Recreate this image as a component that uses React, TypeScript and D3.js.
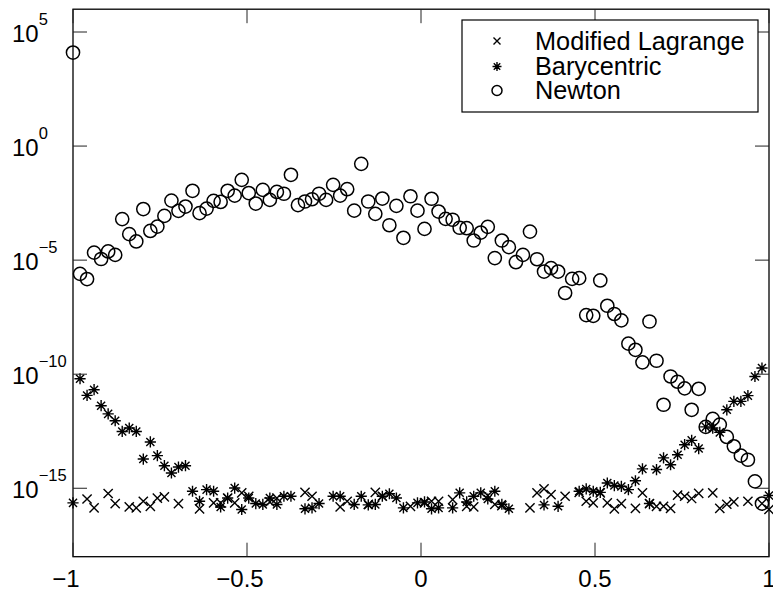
import React from "react";
import * as d3 from "d3";

// Evaluation points: linspace(-1, 1, 100)
const POINT_COUNT = 100;
const xNodes: number[] = d3.range(POINT_COUNT).map((i) => -1 + (2 * i) / (POINT_COUNT - 1));

// log10 of errors (null = not shown)
const lagrangeExp: (number | null)[] = [
  null, null, -15.47, -15.86, null, -15.23, -15.67, null, -15.82, -15.86,
  -15.57, -15.79, -15.43, -15.38, null, -15.67, null, null, -15.9, null,
  -15.64, -15.64, -15.43, -15.64, -15.2, -15.35, null, null, -15.6, -15.43,
  null, null, null, -15.18, -15.35, null, null, null, -15.82, -15.57,
  null, null, -15.71, -15.18, -15.35, null, null, null, -15.79, null,
  -15.64, -15.57, -15.57, null, -15.5, null, -15.79, -15.82, null, -15.32,
  -15.71, -15.76, null, null, null, -15.86, -15.2, -15.03, -15.28, null,
  -15.35, null, -15.18, -15.57, -15.64, -15.2, -15.64, -15.9, -15.67, null,
  -15.88, -15.2, -15.67, -15.79, -15.79, -15.88, -15.3, -15.35, -15.45, -15.22,
  null, -15.2, -15.88, -15.7, -15.6, null, -15.57, null, -15.67, -15.93,
];

const barycentricExp: (number | null)[] = [
  -15.64, -10.2, -10.93, -10.68, -11.38, -11.74, -12.04, -12.51, -12.36, -12.51,
  -13.72, -12.97, -13.57, -14.01, -14.33, -14.07, -14.01, -15.13, -15.57, -15.06,
  -15.13, -15.82, -15.43, -14.99, -15.93, -15.43, -15.67, -15.71, -15.43, -15.71,
  -15.35, -15.35, null, -15.9, -15.86, -15.67, null, -15.35, -15.35, null,
  -15.71, -15.35, -15.73, -15.71, -15.35, -15.24, -15.43, -15.86, null, -15.64,
  -15.6, -15.9, -15.86, null, -15.86, -15.2, -15.6, -15.35, -15.2, -15.47,
  -15.13, -15.7, -15.9, null, null, null, null, -15.73, null, -15.79,
  null, null, -15.13, -15.03, -15.13, -15.18, -14.77, -14.88, -14.92, -15.06,
  -14.67, -14.15, -15.67, -14.18, -13.67, -13.97, -13.53, -13.09, -12.9, -13.26,
  -12.31, -12.36, -12.55, -11.56, -11.19, -11.19, -10.94, -10.1, -9.73, -15.32,
];

const newtonExp: (number | null)[] = [
  4.1, -5.6, -5.83, -4.67, -4.95, -4.62, -4.77, -3.2, -3.86, -4.18,
  -2.76, -3.72, -3.53, -3.06, -2.39, -2.84, -2.65, -1.96, -2.94, -2.74,
  -2.4, -2.45, -1.96, -2.17, -1.48, -2.06, -2.52, -1.92, -2.36, -2.01,
  -2.09, -1.26, -2.59, -2.43, -2.33, -2.09, -2.36, -1.7, -2.17, -1.89,
  -2.83, -0.78, -2.43, -2.97, -2.3, -3.47, -2.62, -4.02, -2.2, -2.83,
  -3.63, -2.31, -2.87, -3.19, -3.23, -3.58, -3.6, -4.14, -3.79, -3.54,
  -4.91, -4.14, -4.43, -5.09, -4.77, -3.75, -4.96, -5.5, -5.35, -5.5,
  -6.44, -5.82, -5.79, -7.41, -7.44, -5.89, -7.0, -7.36, -7.64, -8.66,
  -8.93, -9.48, -7.69, -9.41, -11.34, -10.1, -10.33, -10.62, -11.56, -10.64,
  -12.31, -11.96, -12.21, -12.75, -13.16, -13.57, -13.75, -14.7, -15.67, null,
];

const seriesNames = ["Modified Lagrange", "Barycentric", "Newton"];
const xTicks = [-1, -0.5, 0, 0.5, 1];
const xTickLabels = ["\u22121", "\u22120.5", "0", "0.5", "1"];
const yTickExps = [5, 0, -5, -10, -15];
const yDomain: [number, number] = [1e-18, 1e6];

const W = 773;
const H = 593;
const M = { left: 73, right: 4, top: 9.2, bottom: 36.3 };
const FONT = "'Liberation Sans', Arial, Helvetica, sans-serif";

type Shape = "x" | "star" | "circle";

function Marker({ shape, cx, cy, s }: { shape: Shape; cx: number; cy: number; s: number }) {
  if (shape === "circle") {
    return <circle cx={cx} cy={cy} r={s} fill="none" stroke="#000" strokeWidth={1.5} />;
  }
  if (shape === "x") {
    return (
      <path
        d={`M${cx - s},${cy - s}L${cx + s},${cy + s}M${cx - s},${cy + s}L${cx + s},${cy - s}`}
        stroke="#000"
        strokeWidth={1.4}
        fill="none"
      />
    );
  }
  const d = s * 0.72;
  return (
    <path
      d={`M${cx},${cy - s}L${cx},${cy + s}M${cx - s},${cy}L${cx + s},${cy}M${cx - d},${cy - d}L${cx + d},${cy + d}M${cx - d},${cy + d}L${cx + d},${cy - d}`}
      stroke="#000"
      strokeWidth={1.4}
      fill="none"
    />
  );
}

export default function App() {
  const x = d3.scaleLinear().domain([-1, 1]).range([M.left, W - M.right]);
  const y = d3.scaleLog().domain(yDomain).range([H - M.bottom, M.top]);
  const x0 = x.range()[0];
  const x1 = x.range()[1];
  const yb = y.range()[0];
  const yt = y.range()[1];
  const tickLen = 14;

  const series: { shape: Shape; vals: (number | null)[]; size: number; legendSize: number }[] = [
    { shape: "x", vals: lagrangeExp, size: 4.6, legendSize: 3.5 },
    { shape: "star", vals: barycentricExp, size: 5.6, legendSize: 4.5 },
    { shape: "circle", vals: newtonExp, size: 6.6, legendSize: 5 },
  ];

  const legend = { x: 462, y: 20, w: 296, h: 92 };
  const rowY = [41, 66.5, 90.5];

  return (
    <svg
      width={W}
      height={H}
      style={{ position: "absolute", left: 0, top: 0, background: "#fff" }}
      fontFamily={FONT}
    >
      <rect x={0} y={0} width={W} height={H} fill="#fff" />
      {series.map((s, si) => (
        <g key={si}>
          {s.vals.map((v, i) =>
            v === null ? null : (
              <Marker key={i} shape={s.shape} cx={x(xNodes[i])} cy={y(Math.pow(10, v))} s={s.size} />
            )
          )}
        </g>
      ))}
      <rect x={x0} y={yt} width={x1 - x0} height={yb - yt} fill="none" stroke="#000" strokeWidth={1.3} />
      {xTicks.map((t, i) => (
        <g key={"xt" + i}>
          <line x1={x(t)} x2={x(t)} y1={yb} y2={yb - tickLen} stroke="#222" strokeWidth={1} />
          <line x1={x(t)} x2={x(t)} y1={yt} y2={yt + tickLen} stroke="#222" strokeWidth={1} />
          <text x={x(t)} y={587} dx={t < 0 ? -7 : 0} textAnchor="middle" fontSize={24} fill="#000">
            {xTickLabels[i]}
          </text>
        </g>
      ))}
      {yTickExps.map((e, i) => {
        const yy = y(Math.pow(10, e));
        return (
          <g key={"yt" + i}>
            <line x1={x0} x2={x0 + tickLen} y1={yy} y2={yy} stroke="#222" strokeWidth={1} />
            <line x1={x1} x2={x1 - tickLen} y1={yy} y2={yy} stroke="#222" strokeWidth={1} />
            <text x={12} y={yy + 10} fontSize={24} fill="#000">
              10
              <tspan dy={-17} fontSize={16.5}>
                {e < 0 ? "\u2212" + Math.abs(e) : String(e)}
              </tspan>
            </text>
          </g>
        );
      })}
      <rect x={legend.x} y={legend.y} width={legend.w} height={legend.h} fill="#fff" stroke="#000" strokeWidth={1.2} />
      {series.map((s, i) => (
        <g key={"lg" + i}>
          <Marker shape={s.shape} cx={497} cy={rowY[i]} s={s.legendSize} />
          <text x={535} y={rowY[i] + 8.5} fontSize={25.3} fill="#000">
            {seriesNames[i]}
          </text>
        </g>
      ))}
    </svg>
  );
}
